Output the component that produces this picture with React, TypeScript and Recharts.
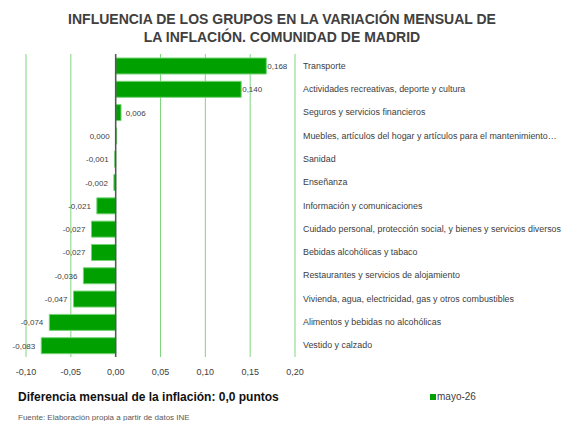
import { Bar, BarChart, CartesianGrid, LabelList, ReferenceLine, XAxis, YAxis } from "recharts"

const categories = [
  "Transporte",
  "Actividades recreativas, deporte y cultura",
  "Seguros y servicios financieros",
  "Muebles, artículos del hogar y artículos para el mantenimiento…",
  "Sanidad",
  "Enseñanza",
  "Información y comunicaciones",
  "Cuidado personal, protección social, y bienes y servicios diversos",
  "Bebidas alcohólicas y tabaco",
  "Restaurantes y servicios de alojamiento",
  "Vivienda, agua, electricidad, gas y otros combustibles",
  "Alimentos y bebidas no alcohólicas",
  "Vestido y calzado",
]

const mayo26 = [0.168, 0.14, 0.006, 0.0, -0.001, -0.002, -0.021, -0.027, -0.027, -0.036, -0.047, -0.074, -0.083]

const xTicks = [-0.1, -0.05, 0, 0.05, 0.1, 0.15, 0.2]

const data = categories.map((name, i) => ({ name, value: mayo26[i] }))

const FONT = "'Liberation Sans', Arial, sans-serif"
const TEXT = "#404040"

const fmt = (v: number, d: number) => v.toFixed(d).replace(".", ",")

function ValueLabel(props: any) {
  const { x, y, width, height, value } = props
  const left = Math.min(x, x + width)
  const right = Math.max(x, x + width)
  const cy = y + height / 2
  if (value > 0) {
    return (
      <text x={Math.max(right + 1, left + 10)} y={cy} dy={3} fontSize={8} fill={TEXT} fontFamily={FONT} textAnchor="start">
        {fmt(value, 3)}
      </text>
    )
  }
  return (
    <text x={left - 6} y={cy} dy={3} fontSize={8} fill={TEXT} fontFamily={FONT} textAnchor="end">
      {fmt(value, 3)}
    </text>
  )
}

function CategoryTick(props: any) {
  const { x, y, payload } = props
  return (
    <text x={x} y={y} dy={3} fontSize={8.9} fill={TEXT} fontFamily={FONT} textAnchor="start">
      {payload.value}
    </text>
  )
}

export default function App() {
  return (
    <div style={{ position: "fixed", left: 0, top: 0, width: 564, height: 421, background: "#fff", fontFamily: FONT, overflow: "hidden" }}>
      <div style={{ position: "absolute", left: 0, width: 564, top: 10, textAlign: "center", fontSize: 14, fontWeight: "bold", color: TEXT, lineHeight: "18px" }}>
        INFLUENCIA DE LOS GRUPOS EN LA VARIACIÓN MENSUAL DE
        <br />
        LA INFLACIÓN. COMUNIDAD DE MADRID
      </div>
      <BarChart
        width={564}
        height={421}
        data={data}
        layout="vertical"
        barSize={16}
        margin={{ top: 54, right: 9, left: 26, bottom: 44 }}
      >
        <CartesianGrid vertical horizontal={false} stroke="#7fd67f" />
        <XAxis
          type="number"
          domain={[-0.1, 0.2]}
          ticks={xTicks}
          tickFormatter={(v) => fmt(v, 2)}
          axisLine={false}
          tickLine={false}
          tickMargin={6}
          tick={{ fontSize: 9, fill: TEXT, fontFamily: FONT }}
          height={20}
        />
        <YAxis
          type="category"
          dataKey="name"
          orientation="right"
          width={260}
          axisLine={false}
          tickLine={false}
          tickSize={0}
          tickMargin={8}
          interval={0}
          tick={<CategoryTick />}
        />
        <Bar
          dataKey="value"
          name="mayo-26"
          fill="#00a000"
          stroke="#76d476"
          strokeWidth={1}
          minPointSize={1}
          isAnimationActive={false}
        >
          <LabelList dataKey="value" content={<ValueLabel />} />
        </Bar>
        <ReferenceLine x={0} stroke="#555555" strokeWidth={1.5} />
      </BarChart>
      <div style={{ position: "absolute", left: 18, top: 390, fontSize: 12, fontWeight: "bold", color: "#111" }}>
        Diferencia mensual de la inflación: 0,0 puntos
      </div>
      <div style={{ position: "absolute", left: 18, top: 413, fontSize: 8, color: "#595959" }}>
        Fuente: Elaboración propia a partir de datos INE
      </div>
      <div style={{ position: "absolute", left: 430, top: 391, display: "flex", alignItems: "center", fontSize: 10, color: TEXT }}>
        <span style={{ display: "inline-block", width: 6, height: 6, background: "#00a000", marginRight: 1 }} />
        mayo-26
      </div>
    </div>
  )
}
